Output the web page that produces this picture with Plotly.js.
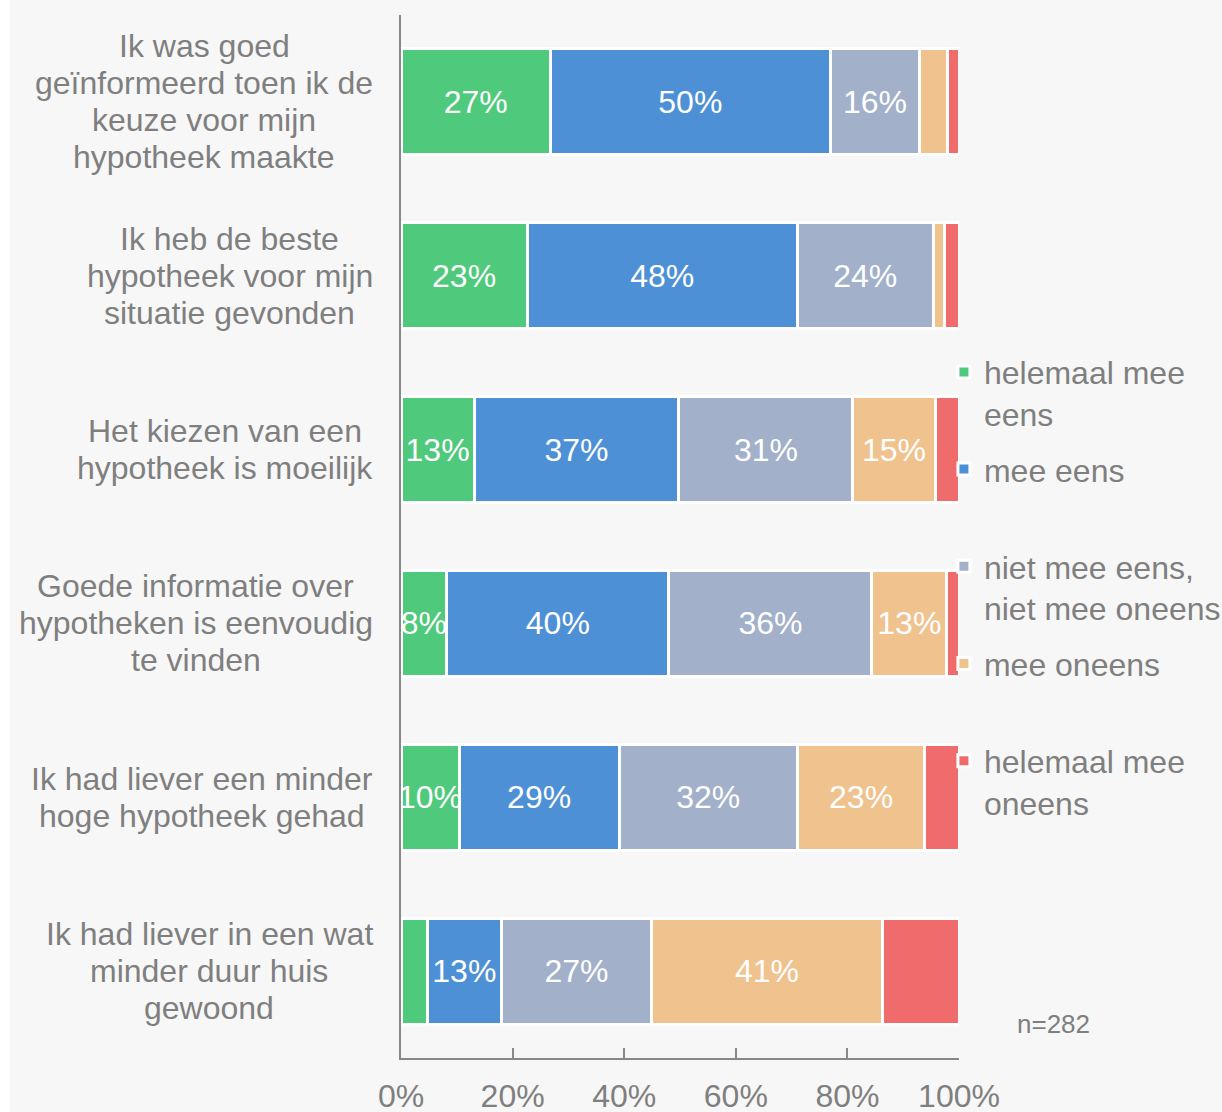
<!DOCTYPE html>
<html>
<head>
<meta charset="utf-8">
<script src="https://cdn.plot.ly/plotly-3.0.1.min.js"></script>
<style>
  html, body { margin: 0; padding: 0; background: #ffffff; }
  #chart { width: 1212px; height: 1112px; margin-left: 10px; }
</style>
</head>
<body>
<div id="chart"></div>
<script>
// Statements (categories), top to bottom
const categories = [
  "Ik was goed<br>geïnformeerd toen ik de<br>keuze voor mijn<br>hypotheek maakte",
  "Ik heb de beste<br>hypotheek voor mijn<br>situatie gevonden",
  "Het kiezen van een<br>hypotheek is moeilijk",
  "Goede informatie over<br>hypotheken is eenvoudig<br>te vinden",
  "Ik had liever een minder<br>hoge hypotheek gehad",
  "Ik had liever in een wat<br>minder duur huis<br>gewoond"
];

// Series names (legend)
const seriesNames = [
  "helemaal mee<br>eens",
  "mee eens<br> ",
  "niet mee eens,<br>niet mee oneens",
  "mee oneens<br> ",
  "helemaal mee<br>oneens"
];

// Values in % per series, one value per statement (top to bottom)
const helemaalMeeEens   = [26.8, 22.6, 13.1,  8.2, 10.4,  4.7];
const meeEens           = [50.1, 48.4, 36.7, 39.8, 28.7, 13.3];
const neutraal          = [16.1, 24.4, 31.2, 36.4, 31.9, 26.9];
const meeOneens         = [ 5.0,  2.0, 14.7, 13.4, 22.9, 41.4];
const helemaalMeeOneens = [ 2.0,  2.6,  4.3,  2.2,  6.1, 13.8];

const xTickVals = [0, 20, 40, 60, 80, 100];
const xTickText = ["0%", "20%", "40%", "60%", "80%", "100%"];
const sampleNote = "n=282";

const seriesValues = [helemaalMeeEens, meeEens, neutraal, meeOneens, helemaalMeeOneens];
const seriesColors = ["#4FC97B", "#4E90D6", "#A2B0CA", "#F0C28E", "#F06C6C"];
const showLabels   = [true, true, true, true, false];

const FONT = "Liberation Sans, Arial, sans-serif";
const GREY = "#7f7f7f";
const FS = 32;
const LINE_H = 37;

// plot geometry in div pixels
const W = 1212, H = 1112;
const M = { l: 391, r: 263, t: 15, b: 54, autoexpand: false };
const plotW = W - M.l - M.r;
const plotH = H - M.t - M.b;

const traces = seriesValues.map((vals, i) => ({
  type: "bar",
  orientation: "h",
  name: seriesNames[i],
  legendgroup: "g" + i,
  y: categories,
  x: vals,
  text: vals.map(v => (showLabels[i] && v >= 8) ? Math.round(v) + "%" : ""),
  textposition: "inside",
  insidetextanchor: "middle",
  constraintext: "none",
  textangle: 0,
  textfont: { family: FONT, size: FS, color: "#ffffff" },
  hoverinfo: "x+name",
  marker: { color: seriesColors[i], line: { color: "#ffffff", width: 3 } }
}));

// measure text for centred multi-line category labels
const ctx = document.createElement("canvas").getContext("2d");
ctx.font = FS + "px 'Liberation Sans', Arial, sans-serif";
const labelRight = -28; // px relative to plot left edge

const annotations = [];
categories.forEach(c => {
  const lines = c.split("<br>");
  const widest = Math.max(...lines.map(s => ctx.measureText(s).width));
  const centerPx = labelRight - widest / 2;
  lines.forEach((ln, k) => {
    annotations.push({
      xref: "paper", yref: "y",
      x: centerPx / plotW, y: c,
      xanchor: "center", yanchor: "middle",
      yshift: -(k - (lines.length - 1) / 2) * LINE_H,
      text: ln,
      showarrow: false,
      font: { family: FONT, size: FS, color: GREY }
    });
  });
});
annotations.push({
  xref: "paper", yref: "paper",
  x: (1015 - 401) / plotW, y: (1058 - 1024) / plotH,
  xanchor: "left", yanchor: "middle",
  text: sampleNote, showarrow: false,
  font: { family: FONT, size: 26, color: GREY }
});

const layout = {
  width: W, height: H,
  paper_bgcolor: "#f7f7f7",
  plot_bgcolor: "#f7f7f7",
  margin: M,
  barmode: "stack",
  bargap: 0.39,
  showlegend: true,
  legend: {
    x: 0.973, xanchor: "left",
    y: 0.684, yanchor: "top",
    valign: "top",
    bgcolor: "rgba(0,0,0,0)",
    traceorder: "grouped",
    tracegroupgap: 11,
    font: { family: FONT, size: FS, color: GREY }
  },
  xaxis: {
    range: [0, 100],
    tickvals: xTickVals,
    ticktext: xTickText,
    ticks: "inside",
    ticklen: 10,
    tickwidth: 2,
    tickcolor: "#888888",
    showline: true,
    linecolor: "#888888",
    linewidth: 2,
    showgrid: false,
    zeroline: false,
    ticklabelstandoff: 9,
    tickfont: { family: FONT, size: FS, color: GREY },
    fixedrange: true
  },
  yaxis: {
    autorange: "reversed",
    showticklabels: false,
    showline: true,
    linecolor: "#888888",
    linewidth: 2,
    showgrid: false,
    zeroline: false,
    ticks: "",
    fixedrange: true
  },
  annotations: annotations
};

Plotly.newPlot("chart", traces, layout, { displayModeBar: false, staticPlot: true });
</script>
</body>
</html>
